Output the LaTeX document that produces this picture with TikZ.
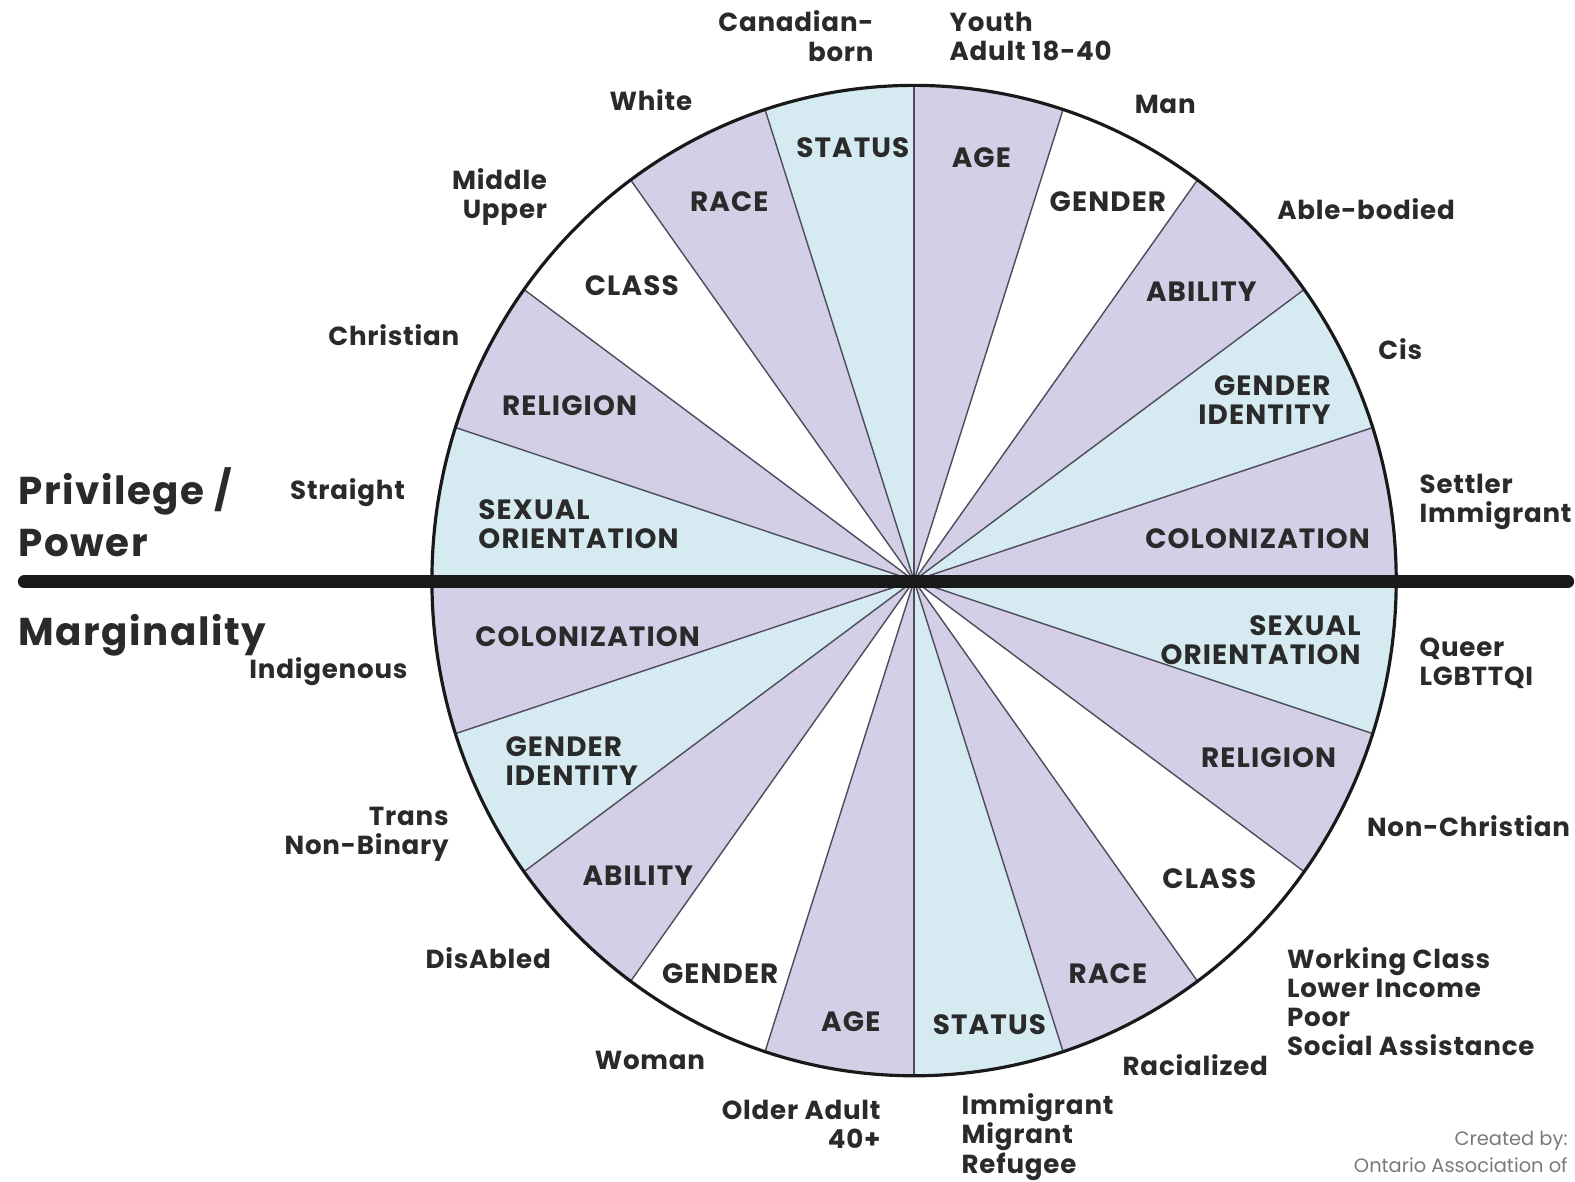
\documentclass[tikz,border=0pt]{standalone}
\usepackage{fontspec}
\setmainfont{Poppins}
\usetikzlibrary{positioning}
\definecolor{lav}{HTML}{D3CFE6}
\definecolor{sky}{HTML}{D5EAF1}
\definecolor{ink}{HTML}{2A2A2A}
\definecolor{spokegray}{HTML}{4E4C5C}
\definecolor{credit}{HTML}{7A7A7A}

\begin{document}
\begin{tikzpicture}[
  x=0.02cm, y=-0.02cm,
  sector/.style={font=\fontsize{15.8}{16.5}\selectfont\bfseries\addfontfeatures{LetterSpace=4}, text=ink, align=center, inner sep=0pt},
  outer/.style={font=\fontsize{14.8}{16.5}\selectfont\bfseries\addfontfeatures{LetterSpace=3}, text=ink, align=center, inner sep=0pt},
  side/.style={font=\fontsize{22}{29}\selectfont\bfseries\addfontfeatures{LetterSpace=4}, text=ink, anchor=west, align=left, inner sep=0pt},
  small/.style={font=\fontsize{11}{13}\selectfont, text=credit, anchor=east, inner sep=0pt},
  spokeline/.style={draw=spokegray, line width=0.8pt},
  rim/.style={draw=black!90, line width=1.8pt},
  bar/.style={draw=black!90, line width=7pt, line cap=round}
]
\useasboundingbox (0,0) rectangle (1568,1176);
\coordinate (hub) at (910,578);

% wheel: 20 slices of 18 degrees
\foreach \a/\col in {-90/lav,-72/white,-54/lav,-36/sky,-18/lav,0/sky,18/lav,36/white,54/lav,72/sky,
                     90/lav,108/white,126/lav,144/sky,162/lav,180/sky,198/lav,216/white,234/lav,252/sky}
  \fill[\col] (hub) -- ++(\a:480 and 493) arc[start angle=\a, delta angle=18, x radius=480, y radius=493] -- cycle;
\foreach \a in {0,18,...,342}
  \draw[spokeline] (hub) -- ++(\a:480 and 493);
\draw[rim] (hub) ellipse[x radius=480, y radius=493];

% dividing bar
\coordinate (barL) at (24,579);
\coordinate (barR) at (1561,579);
\draw[bar] (barL) -- (barR);

% slice labels, upper half
\node[sector] (ageT) at (977,157) {AGE};
\node[sector] (genderT) at (1103,201) {GENDER};
\node[sector] (abilityT) at (1196,290) {ABILITY};
\node[sector, anchor=east, align=right] (gidT) at (1325,398) {GENDER\\IDENTITY};
\node[sector] (colonT) at (1252,536) {COLONIZATION};
\node[sector] (statusT) at (849,147) {STATUS};
\node[sector] (raceT) at (726,201) {RACE};
\node[sector] (classT) at (629,284) {CLASS};
\node[sector] (religionT) at (567,404) {RELIGION};
\node[sector, anchor=west, align=left] (sexorT) at (476,522) {SEXUAL\\ORIENTATION};

% slice labels, lower half
\node[sector, anchor=east, align=right] (sexorB) at (1355,637) {SEXUAL\\ORIENTATION};
\node[sector] (religionB) at (1263,754) {RELIGION};
\node[sector] (classB) at (1204,875) {CLASS};
\node[sector] (raceB) at (1103,969) {RACE};
\node[sector] (statusB) at (985,1020) {STATUS};
\node[sector] (ageB) at (847,1017) {AGE};
\node[sector] (genderB) at (717,969) {GENDER};
\node[sector] (abilityB) at (635,872) {ABILITY};
\node[sector, anchor=west, align=left] (gidB) at (503,758) {GENDER\\IDENTITY};
\node[sector] (colonB) at (585,634) {COLONIZATION};

% privileged groups
\node[outer, anchor=east, align=right] (canadian) at (870,36) {Canadian-\\born};
\node[outer, anchor=west, align=left] (youth) at (945,36) {Youth\\Adult 18-40};
\node[outer] (man) at (1160,104) {Man};
\node[outer] (white) at (648,100) {White};
\node[outer, anchor=east, align=right] (middle) at (545,196) {Middle\\Upper};
\node[outer] (able) at (1360,208) {Able-bodied};
\node[outer] (christian) at (392,334) {Christian};
\node[outer] (cis) at (1394,348) {Cis};
\node[outer] (straight) at (346,490) {Straight};
\node[outer, anchor=west, align=left] (settler) at (1413,500) {Settler\\Immigrant};

% marginalized groups
\node[outer] (indigenous) at (327,669) {Indigenous};
\node[outer, anchor=west, align=left] (queer) at (1413,660) {Queer\\LGBTTQI};
\node[outer] (nonchristian) at (1462,822) {Non-Christian};
\node[outer, anchor=east, align=right] (trans) at (447,831) {Trans\\Non-Binary};
\node[outer] (disabled) at (486,954) {DisAbled};
\node[outer, anchor=west, align=left] (working) at (1281,997) {Working Class\\Lower Income\\Poor\\Social Assistance};
\node[outer] (woman) at (647,1056) {Woman};
\node[outer] (racialized) at (1190,1060) {Racialized};
\node[outer, anchor=east, align=right] (older) at (877,1119) {Older Adult\\40+};
\node[outer, anchor=west, align=left] (immigrant) at (957,1132) {Immigrant\\Migrant\\Refugee};

% side headings and credit
\node[side] (privilege) at (18,510) {Privilege /\\Power};
\node[side] (marginality) at (18,632) {Marginality};
\node[small] (created) at (1561,1136) {Created by:};
\node[small] (ontario) at (1561,1160) {Ontario Association of};
\end{tikzpicture}
\end{document}
